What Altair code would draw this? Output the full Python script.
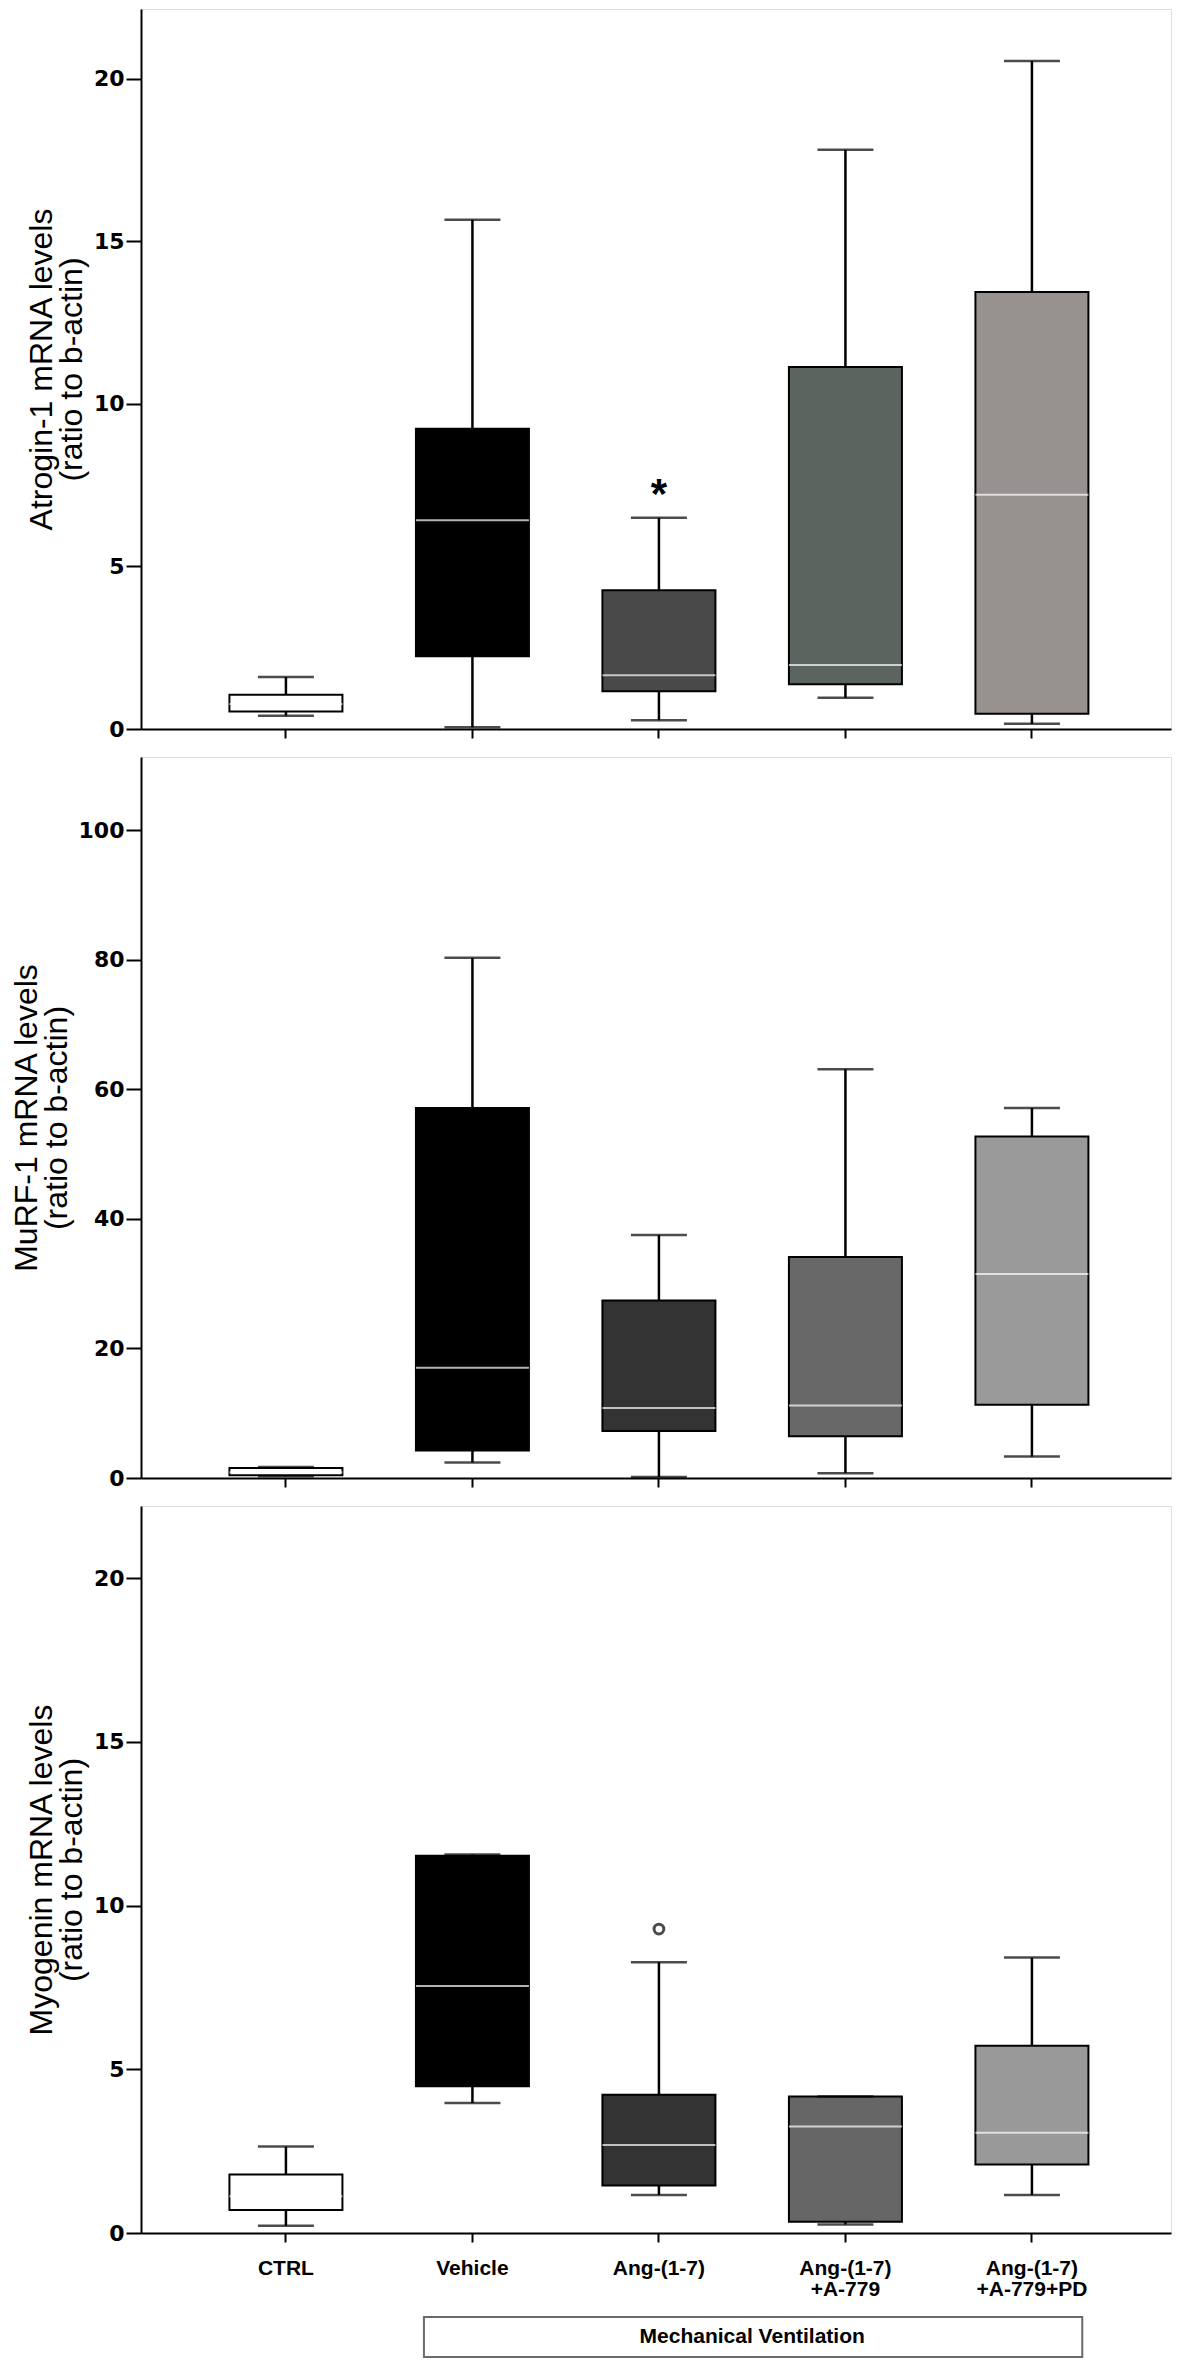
import altair as alt
import pandas as pd

# ---------------- data ----------------
groups = ["CTRL", "Vehicle", "Ang-(1-7)", "Ang-(1-7)\n+A-779", "Ang-(1-7)\n+A-779+PD"]

# Atrogin-1
atro_min = [0.41, 0.05, 0.27, 0.96, 0.16]
atro_q1 = [0.54, 2.24, 1.16, 1.38, 0.47]
atro_med = [0.77, 6.42, 1.65, 1.97, 7.21]
atro_q3 = [1.05, 9.24, 4.27, 11.14, 13.44]
atro_max = [1.60, 15.67, 6.50, 17.82, 20.55]
atro_colors = ["#ffffff", "#000000", "#494949", "#5b645e", "#97918f"]
atro_sig = ["Ang-(1-7)"]

# MuRF-1
murf_min = [0.26, 2.4, 0.15, 0.75, 3.3]
murf_q1 = [0.41, 4.26, 7.25, 6.43, 11.3]
murf_med = [0.9, 17.0, 10.8, 11.2, 31.5]
murf_q3 = [1.54, 57.1, 27.4, 34.1, 52.7]
murf_max = [1.7, 80.3, 37.5, 63.1, 57.1]
murf_colors = ["#ffffff", "#000000", "#333333", "#686868", "#9a9a9a"]

# Myogenin
myo_min = [0.22, 3.97, 1.16, 0.26, 1.16]
myo_q1 = [0.70, 4.48, 1.45, 0.34, 2.09]
myo_med = [1.12, 7.54, 2.69, 3.25, 3.06]
myo_q3 = [1.79, 11.52, 4.22, 4.17, 5.72]
myo_max = [2.64, 11.56, 8.27, 4.17, 8.41]
myo_colors = ["#ffffff", "#000000", "#333333", "#666666", "#999999"]
myo_out_groups = ["Ang-(1-7)"]
myo_out_values = [9.28]

bracket_label = "Mechanical Ventilation"
bracket_start = "Vehicle"
bracket_end = "Ang-(1-7)\n+A-779+PD"
bracket_mid = "Ang-(1-7)\n+A-779"

FONT = "Liberation Sans"
TICKFONT = "DejaVu Sans"
W = 1030

xscale = alt.Scale(domain=groups, paddingInner=0, paddingOuter=0.2614, align=0.53)


def panel(mn, q1, med, q3, mx, colors, ydomain, yticks, title, show_labels, height,
          sig=None, out=None):
    df = pd.DataFrame({"group": groups, "min": mn, "q1": q1, "med": med, "q3": q3, "max": mx})
    yscale = alt.Scale(domain=ydomain, nice=False, zero=True)
    xaxis = alt.Axis(
        title=None, labels=show_labels, labelAngle=0, ticks=True, tickSize=9, tickWidth=2,
        tickColor="black", domainColor="black", domainWidth=2,
        labelFont=FONT, labelFontSize=21, labelFontWeight="bold", labelColor="black",
        labelPadding=15, labelLineHeight=21, labelExpr="split(datum.label, '\\n')",
    )
    yaxis = alt.Axis(
        title=title, values=yticks, grid=False, tickSize=15, tickWidth=2, tickColor="black",
        domainColor="black", domainWidth=2, labelFont=TICKFONT, labelFontSize=22,
        labelFontWeight="bold", labelColor="black", labelPadding=2,
        titleFont=FONT, titleFontSize=32, titleFontWeight="normal", titleColor="black",
        titleLineHeight=30, titlePadding=5,
    )
    X = alt.X("group:N", scale=xscale, sort=groups, axis=xaxis)
    base = alt.Chart(df)
    lo = base.mark_rule(color="black", strokeWidth=2.5).encode(
        x=X, y=alt.Y("min:Q", scale=yscale, axis=yaxis), y2="q1:Q")
    hi = base.mark_rule(color="black", strokeWidth=2.5).encode(
        x=X, y=alt.Y("q3:Q", scale=yscale, axis=yaxis), y2="max:Q")
    box = base.mark_bar(size=113, stroke="black", strokeWidth=2).encode(
        x=X, y=alt.Y("q1:Q", scale=yscale, axis=yaxis), y2="q3:Q",
        color=alt.Color("group:N", scale=alt.Scale(domain=groups, range=colors), legend=None))
    capl = base.mark_tick(size=56, thickness=2.5, color="black").encode(
        x=X, y=alt.Y("min:Q", scale=yscale, axis=yaxis))
    caph = base.mark_tick(size=56, thickness=2.5, color="black").encode(
        x=X, y=alt.Y("max:Q", scale=yscale, axis=yaxis))
    medl = base.mark_tick(size=113, thickness=2, color="white").encode(
        x=X, y=alt.Y("med:Q", scale=yscale, axis=yaxis))
    layers = [lo, hi, box, capl, caph, medl]
    if sig is not None:
        sdf = df[df["group"].isin(sig)]
        layers.append(alt.Chart(sdf).mark_text(
            text="*", font=FONT, fontSize=42, fontWeight="bold", color="black", dy=-10,
            baseline="alphabetic").encode(x=X, y=alt.Y("max:Q", scale=yscale, axis=yaxis)))
    if out is not None:
        odf = pd.DataFrame({"group": out[0], "value": out[1]})
        layers.append(alt.Chart(odf).mark_point(
            shape="circle", size=95, filled=False, stroke="black", strokeWidth=3).encode(
            x=X, y=alt.Y("value:Q", scale=yscale, axis=yaxis)))
    return alt.layer(*layers).properties(width=W, height=height)


p1 = panel(atro_min, atro_q1, atro_med, atro_q3, atro_max, atro_colors, [0, 22.15],
           [0, 5, 10, 15, 20], ["Atrogin-1 mRNA levels", "(ratio to b-actin)"], False, 720,
           sig=atro_sig)
p2 = panel(murf_min, murf_q1, murf_med, murf_q3, murf_max, murf_colors, [0, 111.3],
           [0, 20, 40, 60, 80, 100], ["MuRF-1 mRNA levels", "(ratio to b-actin)"], False, 721)
p3 = panel(myo_min, myo_q1, myo_med, myo_q3, myo_max, myo_colors, [0, 22.2],
           [0, 5, 10, 15, 20], ["Myogenin mRNA levels", "(ratio to b-actin)"], True, 727,
           out=(myo_out_groups, myo_out_values))

bdf = pd.DataFrame({"start": [bracket_start], "end": [bracket_end], "mid": [bracket_mid],
                    "label": [bracket_label]})
brect = alt.Chart(bdf).mark_rect(fill="white", stroke="#6a6a6a", strokeWidth=2).encode(
    x=alt.X("start:N", scale=xscale, sort=groups, axis=None, bandPosition=0.24),
    x2=alt.X2("end", bandPosition=0.77),
)
btext = alt.Chart(bdf).mark_text(font=FONT, fontSize=21, fontWeight="bold", color="black",
                                 baseline="middle", align="center").encode(
    x=alt.X("mid:N", scale=xscale, sort=groups, axis=None, bandPosition=0),
    text="label:N",
)
p4 = alt.layer(brect, btext).properties(width=W, height=40,
                                        view=alt.ViewBackground(stroke="transparent"))

chart = alt.vconcat(p1, p2, p3, p4, spacing=15).resolve_scale(
    x="independent", y="independent", color="independent"
).properties(
    padding={"left": 1, "top": 0, "right": 0, "bottom": 0}
).configure_view(stroke="#555555", strokeWidth=2).configure(background="white")

chart.save("out.html", embed_options={"renderer": "svg", "actions": False})
